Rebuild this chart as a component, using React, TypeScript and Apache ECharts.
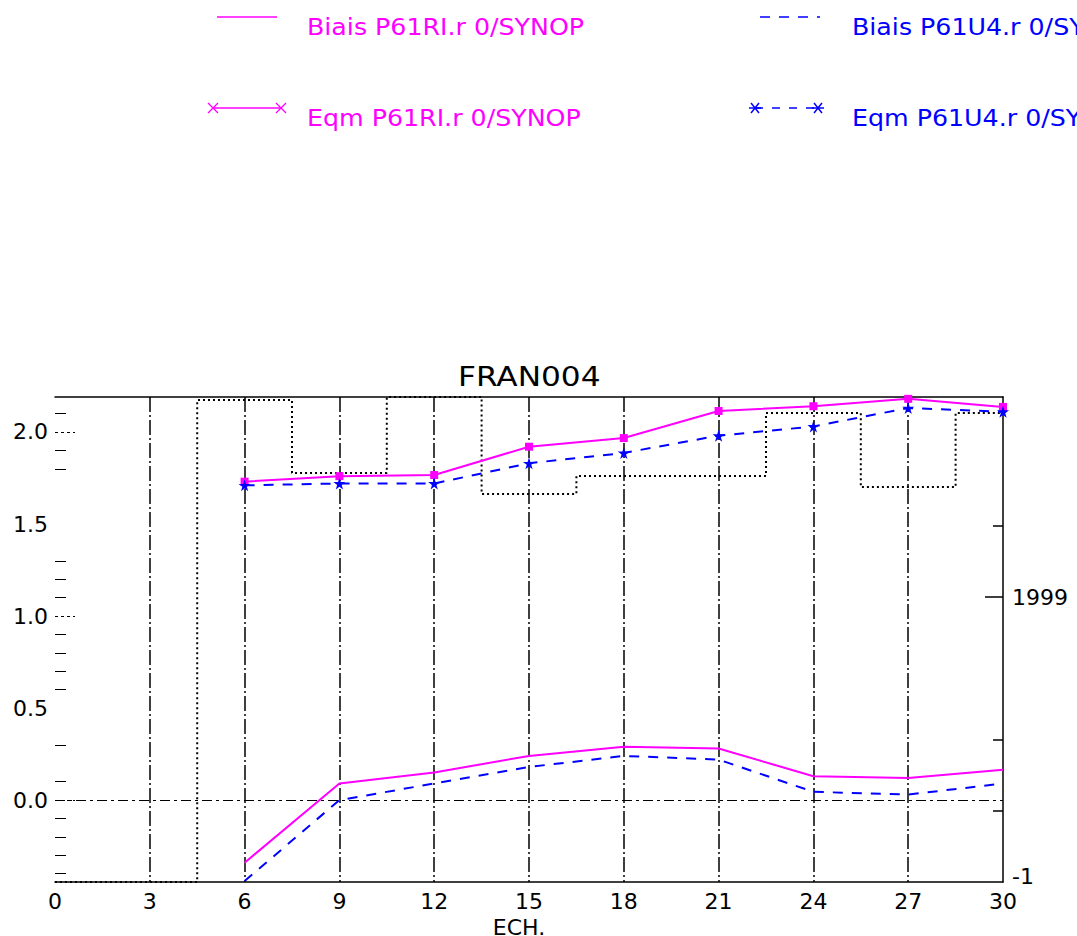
import React, { useEffect, useRef } from 'react';
import * as echarts from 'echarts';

// ---- data ----
const ECH = [6, 9, 12, 15, 18, 21, 24, 27, 30];
const BIAIS_RI = [-0.34, 0.09, 0.15, 0.24, 0.29, 0.28, 0.13, 0.12, 0.165];
const BIAIS_U4 = [-0.44, 0.0, 0.09, 0.18, 0.24, 0.22, 0.045, 0.03, 0.09];
const EQM_RI = [1.73, 1.76, 1.766, 1.92, 1.967, 2.114, 2.14, 2.18, 2.136];
const EQM_U4 = [1.71, 1.72, 1.72, 1.83, 1.886, 1.98, 2.03, 2.13, 2.11];

const NOBS_ECH = [0, 3, 6, 9, 12, 15, 18, 21, 24, 27, 30];
const NOBS = [-1, -1, 3382, 2870, 3403, 2722, 2849, 2849, 3291, 2771, 3291];

const LEFT_LABELS = [0, 0.5, 1.0, 1.5, 2.0];
const LEFT_MINOR_TICKS = [-0.4, -0.3, -0.2, -0.1, 0.1, 0.3, 0.6, 0.7, 0.8, 0.9, 1.1, 1.2, 1.3, 1.8, 1.9, 2.1];
const LEFT_MAJOR_TICKS = [0, 1, 2];
const RIGHT_LABELS = [-1, 1999];
const RIGHT_TICKS = [500, 1000, 2500];
const RIGHT_LONG_TICKS = [1999];

const TITLE = 'FRAN004';
const X_NAME = 'ECH.';
const LEGEND_NAMES = [
  'Biais P61RI.r 0/SYNOP',
  'Biais P61U4.r 0/SYNOP',
  'Eqm P61RI.r 0/SYNOP',
  'Eqm P61U4.r 0/SYNOP',
];

const MAGENTA = '#ff00ff';
const BLUE = '#0000ff';
const FONT = '"DejaVu Sans", sans-serif';
const STAR = 'path://M50,0 L61,35 L98,35 L68,57 L79,91 L50,70 L21,91 L32,57 L2,35 L39,35 Z';

export default function App() {
  const ref = useRef<HTMLDivElement>(null);

  useEffect(() => {
    if (!ref.current) return;
    const chart = echarts.init(ref.current, null, { renderer: 'svg' });

    const toPairs = (xs: number[], ys: number[]) => xs.map((x, i) => [x, ys[i]]);

    const legendText = (x: number, y: number, text: string, color: string) => ({
      type: 'text',
      x,
      y,
      scaleX: 1.1,
      style: {
        text,
        fill: color,
        font: `23px ${FONT}`,
        textVerticalAlign: 'middle',
        verticalAlign: 'middle',
      },
    });

    const xMark = (cx: number, cy: number) => ({
      type: 'group',
      children: [
        { type: 'line', shape: { x1: cx - 5, y1: cy - 5, x2: cx + 5, y2: cy + 5 }, style: { stroke: MAGENTA, lineWidth: 1.2 } },
        { type: 'line', shape: { x1: cx - 5, y1: cy + 5, x2: cx + 5, y2: cy - 5 }, style: { stroke: MAGENTA, lineWidth: 1.2 } },
      ],
    });
    const starMark = (cx: number, cy: number) => ({
      type: 'group',
      children: [
        { type: 'line', shape: { x1: cx - 6, y1: cy, x2: cx + 6, y2: cy }, style: { stroke: BLUE, lineWidth: 1.5 } },
        { type: 'line', shape: { x1: cx - 4, y1: cy - 5, x2: cx + 4, y2: cy + 5 }, style: { stroke: BLUE, lineWidth: 1.5 } },
        { type: 'line', shape: { x1: cx - 4, y1: cy + 5, x2: cx + 4, y2: cy - 5 }, style: { stroke: BLUE, lineWidth: 1.5 } },
      ],
    });

    const option: any = {
      animation: false,
      backgroundColor: '#ffffff',
      grid: { left: 55, right: 74, top: 397, bottom: 54, containLabel: false, outerBoundsMode: 'none' },
      graphic: [
        // legend row 1
        { type: 'line', shape: { x1: 217, y1: 17, x2: 277, y2: 17 }, style: { stroke: MAGENTA, lineWidth: 1.5 } },
        legendText(307, 27, LEGEND_NAMES[0], MAGENTA),
        { type: 'line', shape: { x1: 760, y1: 17, x2: 820, y2: 17 }, style: { stroke: BLUE, lineWidth: 1.5, lineDash: [10, 9] } },
        legendText(852, 27, LEGEND_NAMES[1], BLUE),
        // legend row 2
        { type: 'line', shape: { x1: 213, y1: 108, x2: 281, y2: 108 }, style: { stroke: MAGENTA, lineWidth: 1.5 } },
        xMark(213, 108),
        xMark(281, 108),
        legendText(307, 118, LEGEND_NAMES[2], MAGENTA),
        { type: 'line', shape: { x1: 755, y1: 108, x2: 818, y2: 108 }, style: { stroke: BLUE, lineWidth: 1.5, lineDash: [8, 9] } },
        starMark(755, 108),
        starMark(818, 108),
        legendText(852, 118, LEGEND_NAMES[3], BLUE),
        // title
        {
          type: 'text',
          x: 458,
          y: 377,
          scaleX: 1.2,
          style: { text: TITLE, fill: '#000', font: `26px ${FONT}`, verticalAlign: 'middle', textVerticalAlign: 'middle' },
        },
      ],
      xAxis: [
        {
          type: 'value',
          min: 0,
          max: 30,
          interval: 3,
          position: 'bottom',
          name: X_NAME,
          nameLocation: 'middle',
          nameGap: 28,
          nameTextStyle: { fontFamily: FONT, fontSize: 22, color: '#000', padding: [0, 20, 0, 0] },
          axisLine: { show: true, onZero: false, lineStyle: { color: '#000', width: 1.5 } },
          axisTick: { show: false },
          axisLabel: { fontFamily: FONT, fontSize: 22, color: '#000', margin: 8 },
          splitLine: {
            show: true,
            showMinLine: false,
            showMaxLine: false,
            lineStyle: { color: '#000', width: 1.5, type: [15, 3, 2, 3] },
          },
        },
        {
          type: 'value',
          min: 0,
          max: 30,
          position: 'top',
          axisLine: { show: true, onZero: false, lineStyle: { color: '#000', width: 1.5 } },
          axisTick: { show: false },
          axisLabel: { show: false },
          splitLine: { show: false },
        },
      ],
      yAxis: [
        {
          type: 'value',
          min: -0.445,
          max: 2.19,
          position: 'left',
          axisLine: { show: false, onZero: false },
          axisTick: { show: true, inside: true, length: 11, customValues: LEFT_MINOR_TICKS, lineStyle: { color: '#000', width: 1 } },
          axisLabel: {
            customValues: LEFT_LABELS,
            formatter: (v: number) => v.toFixed(1),
            fontFamily: FONT,
            fontSize: 22,
            color: '#000',
            margin: 7,
          },
          splitLine: { show: false },
        },
        {
          type: 'value',
          min: -0.445,
          max: 2.19,
          position: 'left',
          axisLine: { show: false, onZero: false },
          axisTick: { show: true, inside: true, length: 20, customValues: LEFT_MAJOR_TICKS, lineStyle: { color: '#000', width: 1, type: [3, 3] } },
          axisLabel: { show: false },
          splitLine: { show: false },
        },
        {
          type: 'value',
          min: -1,
          max: 3403,
          position: 'right',
          axisLine: { show: true, onZero: false, lineStyle: { color: '#000', width: 1.5 } },
          axisTick: { show: true, inside: true, length: 10, customValues: RIGHT_TICKS, lineStyle: { color: '#000', width: 1.5 } },
          axisLabel: {
            customValues: RIGHT_LABELS,
            fontFamily: FONT,
            fontSize: 22,
            color: '#000',
            margin: 9,
            formatter: (v: number) => (v < 0 ? `{lo|${v}}` : `${v}`),
            rich: { lo: { fontFamily: FONT, fontSize: 22, color: '#000', padding: [0, 0, 12, 0] } },
          },
          splitLine: { show: false },
        },
        {
          type: 'value',
          min: -1,
          max: 3403,
          position: 'right',
          axisLine: { show: false, onZero: false },
          axisTick: { show: true, inside: true, length: 18, customValues: RIGHT_LONG_TICKS, lineStyle: { color: '#000', width: 1.5 } },
          axisLabel: { show: false },
          splitLine: { show: false },
        },
      ],
      series: [
        {
          name: 'nobs',
          type: 'line',
          xAxisIndex: 0,
          yAxisIndex: 2,
          step: 'middle',
          showSymbol: false,
          symbol: 'none',
          data: toPairs(NOBS_ECH, NOBS),
          lineStyle: { color: '#000', width: 2, type: [2, 3] },
          z: 1,
        },
        {
          name: LEGEND_NAMES[0],
          type: 'line',
          yAxisIndex: 0,
          showSymbol: false,
          symbol: 'none',
          data: toPairs(ECH, BIAIS_RI),
          lineStyle: { color: MAGENTA, width: 2 },
          markLine: {
            silent: true,
            symbol: 'none',
            label: { show: false },
            lineStyle: { color: '#000', width: 1.2, type: [10, 4, 3, 4] },
            data: [{ yAxis: 0 }],
          },
          z: 3,
        },
        {
          name: LEGEND_NAMES[1],
          type: 'line',
          yAxisIndex: 0,
          showSymbol: false,
          symbol: 'none',
          data: toPairs(ECH, BIAIS_U4),
          lineStyle: { color: BLUE, width: 2, type: [10, 9] },
          z: 3,
        },
        {
          name: LEGEND_NAMES[2],
          type: 'line',
          yAxisIndex: 0,
          symbol: 'rect',
          symbolSize: 8,
          showSymbol: true,
          itemStyle: { color: MAGENTA },
          data: toPairs(ECH, EQM_RI),
          lineStyle: { color: MAGENTA, width: 2 },
          z: 4,
        },
        {
          name: LEGEND_NAMES[3],
          type: 'line',
          yAxisIndex: 0,
          symbol: STAR,
          symbolSize: 12,
          showSymbol: true,
          itemStyle: { color: BLUE },
          data: toPairs(ECH, EQM_U4),
          lineStyle: { color: BLUE, width: 2, type: [10, 9] },
          z: 4,
        },
      ],
    };

    chart.setOption(option);
    return () => chart.dispose();
  }, []);

  return (
    <div
      ref={ref}
      style={{ position: 'absolute', left: 0, top: 0, width: 1077, height: 936, background: '#fff' }}
    />
  );
}
